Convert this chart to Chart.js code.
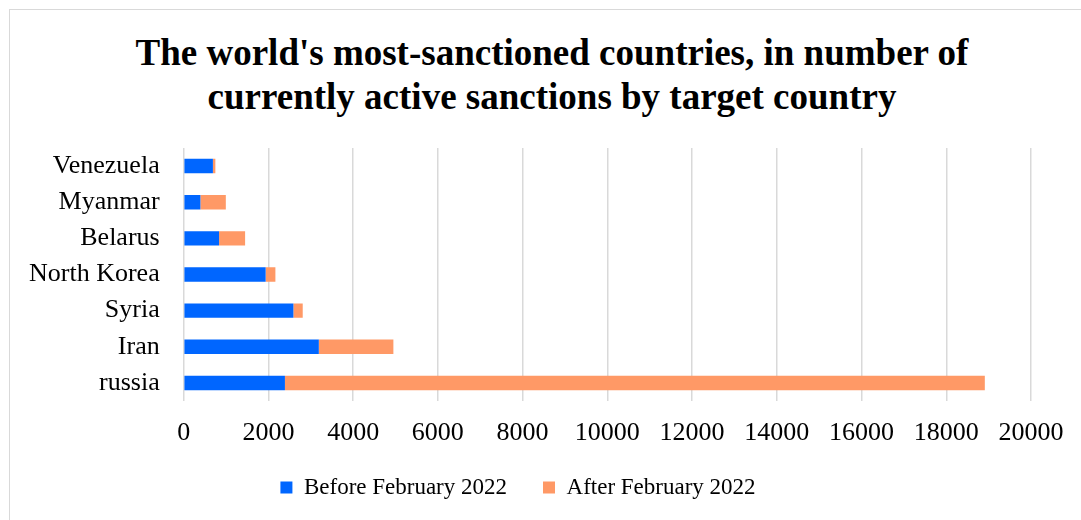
<!DOCTYPE html>
<html>
<head>
<meta charset="utf-8">
<script src="https://cdn.jsdelivr.net/npm/chart.js@4"></script>
<style>
  html, body { margin: 0; padding: 0; background: #fff; overflow: hidden; }
  .wrap { position: relative; width: 1081px; height: 520px; }
  .frame { position: absolute; left: 9px; top: 9px; width: 1200px; height: 600px; border: 1px solid #d9d9d9; box-sizing: border-box; }
  .title {
    position: absolute; left: 24px; top: 31px; width: 1056px; margin: 0;
    font: bold 37px/43.5px 'Liberation Serif', 'Times New Roman', serif;
    color: #000; text-align: center;
  }
  canvas { position: absolute; left: 0; top: 0; }
</style>
</head>
<body>
<div class="wrap">
  <div class="frame"></div>
  <h1 class="title">The world's most-sanctioned countries, in number of<br>currently active sanctions by target country</h1>
  <canvas class="js-chart" width="1081" height="520"></canvas>
</div>
<script>
const countries = ['Venezuela', 'Myanmar', 'Belarus', 'North Korea', 'Syria', 'Iran', 'russia'];
const beforeFeb2022 = [690, 395, 835, 1935, 2590, 3190, 2390];
const afterFeb2022 = [58, 600, 615, 230, 220, 1760, 16520];
const xTicks = [0, 2000, 4000, 6000, 8000, 10000, 12000, 14000, 16000, 18000, 20000];

const serif = "'Liberation Serif', 'Times New Roman', serif";
const ctx = document.querySelector('.js-chart').getContext('2d');

new Chart(ctx, {
  type: 'bar',
  data: {
    labels: countries,
    datasets: [
      {
        label: 'Before February 2022',
        data: beforeFeb2022,
        backgroundColor: '#0066ff',
        barPercentage: 0.5,
        categoryPercentage: 0.8,
      },
      {
        label: 'After February 2022',
        data: afterFeb2022,
        backgroundColor: '#ff9966',
        barPercentage: 0.5,
        categoryPercentage: 0.8,
      },
    ],
  },
  options: {
    indexAxis: 'y',
    responsive: false,
    animation: false,
    layout: { padding: { left: 5, right: 50, top: 148, bottom: 11 } },
    plugins: {
      legend: {
        position: 'bottom',
        labels: {
          color: '#000',
          font: { family: serif, size: 23 },
          boxWidth: 12,
          boxHeight: 12,
          padding: 36,
        },
      },
      tooltip: { enabled: false },
    },
    scales: {
      x: {
        stacked: true,
        min: 0,
        max: 20000,
        afterBuildTicks: axis => { axis.ticks = xTicks.map(value => ({ value })); },
        afterFit: axis => { axis.height = 39; },
        grid: { color: '#d9d9d9', lineWidth: 1.5, drawTicks: false },
        border: { display: false },
        ticks: { color: '#000', font: { family: serif, size: 26 }, padding: 17, callback: value => value },
      },
      y: {
        stacked: true,
        grid: { display: false, drawTicks: false },
        border: { display: false },
        ticks: { color: '#000', font: { family: serif, size: 26 }, padding: 24 },
      },
    },
  },
});
</script>
</body>
</html>
